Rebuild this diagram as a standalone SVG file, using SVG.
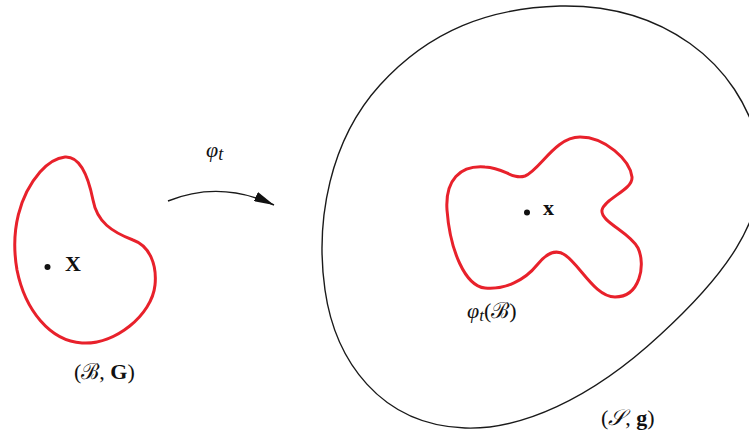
<svg xmlns="http://www.w3.org/2000/svg" width="749" height="441" viewBox="0 0 749 441">
<style>
.red{fill:none;stroke:#e8212b;stroke-width:3;stroke-linejoin:round}
.blk{fill:none;stroke:#1a1a1a;stroke-width:1.4}
.t{font-family:"Liberation Serif","DejaVu Serif",serif;font-size:22px;fill:#111}
.b{font-weight:bold}
.i{font-style:italic}
</style>
<defs>
<marker id="ah" viewBox="0 0 20 10" refX="20" refY="5" markerWidth="20" markerHeight="10" markerUnits="userSpaceOnUse" orient="auto">
<path d="M0,0 L20,5 L0,10 Z" fill="#111"/>
</marker>
</defs>
<rect width="749" height="441" fill="#fff"/>
<g id="space">
<path class="blk" d="M560,6 C660,4 740,60 760,150 C770,220 720,280 660,335 C590,400 520,430 465,428 C380,425 335,360 325,290 C315,220 330,140 380,85 C430,30 490,8 560,6 Z"/>
<text class="t" x="601" y="425">(<tspan class="i">𝒮</tspan>, <tspan class="b">g</tspan>)</text>
</g>
<g id="body">
<path class="red" d="M65,157 C80,156 88,175 93,200 C97,222 112,232 133,240 C150,246 157,265 155,285 C152,315 115,345 82,343 C50,341 25,310 17,270 C10,230 20,195 40,172 C48,163 56,158 65,157 Z"/>
<circle cx="47.5" cy="267" r="3" fill="#111"/>
<text class="t b" x="65" y="271" font-size="23">X</text>
<text class="t" x="74" y="379">(ℬ, <tspan class="b">G</tspan>)</text>
</g>
<g id="image">
<path class="red" d="M447,210 C445,180 460,165 485,167 C505,168 512,180 525,176 C540,170 555,137 580,137 C605,137 630,160 632,177 C633,190 605,198 602,210 C600,222 630,232 638,248 C646,265 640,297 615,297 C595,297 580,265 565,255 C555,248 545,255 537,265 C525,280 505,290 485,288 C465,286 450,250 447,210 Z"/>
<circle cx="527" cy="212.5" r="3" fill="#111"/>
<text class="t b" x="543" y="215" font-size="23">x</text>
<text class="t" x="467" y="318" font-size="24"><tspan class="i">φ</tspan><tspan class="i" font-size="17" dy="3">t</tspan><tspan dy="-3">(ℬ)</tspan></text>
</g>
<g id="connectors">
<path class="blk" d="M168,201 Q220,180 274,205" marker-end="url(#ah)"/>
<text class="t" x="206" y="157" font-size="26"><tspan class="i">φ</tspan><tspan class="i" font-size="18" dy="3">t</tspan></text>
</g>
</svg>
